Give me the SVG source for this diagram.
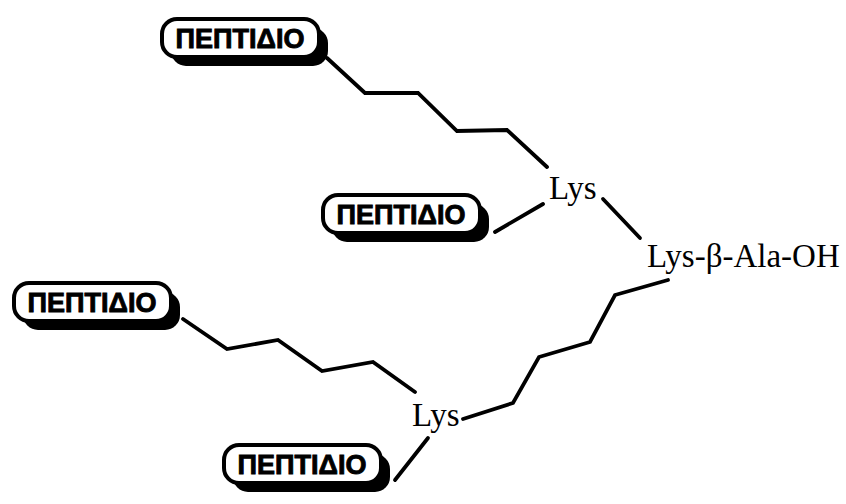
<svg xmlns="http://www.w3.org/2000/svg" width="846" height="504" viewBox="0 0 846 504">
  <style>
    .box { fill: #fff; stroke: #000; stroke-width: 4; }
    .shadow { fill: #000; }
    .tag { font-family: "Liberation Sans", Arial, sans-serif; font-weight: bold; font-size: 27px; fill: #000; stroke: #000; stroke-width: 0.9; text-anchor: middle; }
    .lbl { font-family: "Liberation Serif", "Times New Roman", serif; font-size: 33px; fill: #000; }
    .bond { fill: none; stroke: #000; stroke-width: 3.8; stroke-linejoin: miter; stroke-linecap: round; }
  </style>
  <defs>
    <g id="peptide">
      <rect class="shadow" x="9" y="9" width="157" height="38" rx="15"/>
      <rect class="box" x="0" y="0" width="157" height="38" rx="15"/>
      <text class="tag" x="78" y="29">ΠΕΠΤΙΔΙΟ</text>
    </g>
  </defs>
  <rect width="846" height="504" fill="#fff"/>

  <g id="connectors">
    <polyline class="bond" points="327,58 365,93 418,93 457,131 507,130 547,167"/>
    <line class="bond" x1="495" y1="232" x2="543" y2="204"/>
    <line class="bond" x1="603" y1="199" x2="640" y2="238"/>
    <polyline class="bond" points="668,280 615,295 590,342 539,357 513,403 463,419"/>
    <polyline class="bond" points="183,319 227,349 278,340 322,371 373,362 415,392"/>
    <line class="bond" x1="428" y1="438" x2="395" y2="480"/>
  </g>

  <g id="peptide-1"><use href="#peptide" x="162" y="19"/></g>
  <g id="peptide-2"><use href="#peptide" x="323" y="195"/></g>
  <g id="peptide-3"><use href="#peptide" x="14" y="283"/></g>
  <g id="peptide-4"><use href="#peptide" x="224" y="445"/></g>

  <g id="lys-upper"><text class="lbl" x="549" y="199">Lys</text></g>
  <g id="lys-lower"><text class="lbl" x="412" y="426">Lys</text></g>
  <g id="core"><text class="lbl" x="647" y="267">Lys-β-Ala-OH</text></g>
</svg>
